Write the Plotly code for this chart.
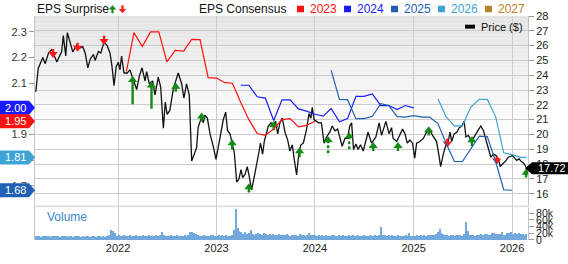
import pandas as pd
import plotly.graph_objects as go

# ---------------- data ----------------
price_dates = ["2021-03-02","2021-03-11","2021-03-28","2021-04-06","2021-04-18","2021-04-30","2021-05-19","2021-06-06","2021-06-12","2021-06-21","2021-06-27","2021-07-07","2021-07-17","2021-08-01","2021-08-11","2021-08-23","2021-09-01","2021-09-11","2021-09-20","2021-10-02","2021-10-08","2021-10-20","2021-10-29","2021-11-10","2021-11-22","2021-12-02","2021-12-09","2021-12-17","2021-12-25",
"2022-01-02","2022-01-08","2022-01-14","2022-01-23","2022-02-04","2022-02-14","2022-02-24","2022-03-11","2022-03-21","2022-03-31","2022-04-11","2022-04-17","2022-04-27","2022-05-09","2022-05-18","2022-05-30","2022-06-08","2022-06-18","2022-06-25","2022-07-02","2022-07-12","2022-07-25","2022-08-03","2022-08-12","2022-08-25","2022-09-02","2022-09-12","2022-09-22","2022-10-01","2022-10-09","2022-10-19","2022-10-25","2022-11-01","2022-11-07","2022-11-13","2022-11-19","2022-11-28","2022-12-08","2022-12-20","2022-12-30",
"2023-01-08","2023-01-18","2023-01-26","2023-02-04","2023-02-11","2023-02-20","2023-02-28","2023-03-08","2023-03-17","2023-03-25","2023-04-02","2023-04-08","2023-04-17","2023-04-25","2023-05-02","2023-05-11","2023-05-21","2023-05-30","2023-06-07","2023-06-13","2023-06-21","2023-06-27","2023-07-06","2023-07-12","2023-07-22","2023-07-30","2023-08-08","2023-08-16","2023-08-24","2023-09-02","2023-09-12","2023-09-22","2023-09-30","2023-10-09","2023-10-16","2023-10-25","2023-11-03","2023-11-10","2023-11-19","2023-11-25","2023-12-01","2023-12-10","2023-12-17","2023-12-22","2023-12-29",
"2024-01-07","2024-01-15","2024-01-25","2024-02-04","2024-02-13","2024-02-25","2024-03-05","2024-03-15","2024-03-25","2024-04-02","2024-04-11","2024-04-21","2024-05-01","2024-05-09","2024-05-16","2024-05-23","2024-06-01","2024-06-09","2024-06-18","2024-06-28","2024-07-08","2024-07-16","2024-07-29","2024-08-14","2024-08-26","2024-09-04","2024-09-20","2024-10-02","2024-10-11","2024-10-17","2024-10-30","2024-11-14","2024-11-21","2024-11-30","2024-12-08","2024-12-18","2024-12-28",
"2025-01-05","2025-01-12","2025-01-24","2025-02-06","2025-02-18","2025-02-28","2025-03-09","2025-03-17","2025-03-27","2025-04-05","2025-04-11","2025-04-21","2025-05-01","2025-05-09","2025-05-16","2025-05-22","2025-05-31","2025-06-10","2025-06-19","2025-06-28","2025-07-07","2025-07-14","2025-07-23","2025-08-01","2025-08-10","2025-08-20","2025-08-29","2025-09-07","2025-09-17","2025-09-27","2025-10-05","2025-10-14","2025-10-24","2025-11-03","2025-11-11","2025-11-18","2025-11-28","2025-12-06","2025-12-18",
"2026-01-03","2026-01-18","2026-01-27","2026-02-05","2026-02-14","2026-02-24"]
price_vals = [22.88,24.46,25.20,24.78,25.50,25.73,24.90,25.60,26.67,25.30,26.88,26.15,25.58,26.04,25.83,25.93,25.50,24.50,25.10,25.40,24.99,25.60,25.50,26.25,25.98,25.50,24.67,23.30,24.57,
24.88,24.36,25.30,24.15,24.15,24.36,23.83,23.03,23.94,24.50,23.62,24.25,23.41,23.62,22.67,23.87,23.20,20.42,22.19,21.35,21.62,23.09,23.62,24.15,23.41,22.46,23.41,22.67,18.21,18.57,19.09,20.46,20.88,21.20,20.78,21.30,21.10,20.04,19.20,18.32,
19.20,20.15,20.99,21.51,20.25,20.04,19.41,18.78,16.77,16.99,17.62,17.09,17.30,17.83,17.20,16.25,17.13,18.15,18.78,19.41,18.67,19.52,20.15,20.57,20.78,20.67,20.88,20.04,20.78,21.10,20.15,19.62,18.88,19.30,18.35,17.26,18.88,19.30,19.41,19.83,20.36,21.41,21.10,21.83,20.99,
20.88,20.78,20.78,19.41,19.83,20.15,20.57,20.25,20.36,19.83,19.20,19.73,19.73,20.57,20.78,18.99,19.36,18.99,19.30,18.88,19.52,20.15,19.41,19.83,20.78,19.94,20.88,20.04,20.46,19.73,19.52,20.04,20.36,20.04,19.41,19.62,19.41,
18.40,19.41,19.52,19.73,20.15,20.36,20.04,19.83,19.52,18.57,17.83,18.67,19.30,19.52,20.15,19.52,20.04,20.15,20.46,20.57,20.88,19.83,19.94,19.62,19.73,20.04,20.36,20.57,20.25,19.62,19.09,18.46,18.67,18.57,18.35,17.83,18.04,18.15,18.46,
18.57,18.25,18.35,18.15,18.04,17.72]

cons_2023_dates = pd.date_range("2022-02-01", periods=24, freq="MS")
cons_2023 = [2.146,2.297,2.243,2.300,2.300,2.183,2.228,2.225,2.271,2.270,2.122,2.120,2.102,2.100,2.025,1.958,1.904,1.897,1.922,1.958,1.962,1.930,1.936,1.952]
cons_2024_dates = pd.date_range("2023-04-01", periods=22, freq="MS")
cons_2024 = [2.092,2.092,2.047,2.042,1.955,2.035,2.035,2.000,1.991,1.979,1.972,2.002,1.950,1.962,2.049,2.049,2.058,2.013,2.013,1.997,2.013,2.004]
cons_2025_dates = pd.date_range("2024-03-01", periods=23, freq="MS")
cons_2025 = [2.151,2.037,2.036,1.962,1.962,1.971,2.020,2.013,1.970,1.968,1.974,1.968,1.968,1.943,1.867,1.795,1.795,1.843,1.894,1.892,1.795,1.685,1.683]
cons_2026_dates = ["2025-04-01","2025-05-01","2025-06-01","2025-07-01","2025-08-01","2025-09-01","2025-10-01","2025-11-01","2025-12-01","2026-01-01","2026-02-01","2026-02-24"]
cons_2026 = [2.039,1.970,1.934,1.934,2.007,2.037,2.037,1.970,1.829,1.822,1.811,1.811]
cons_years = ["2023", "2024", "2025", "2026", "2027"]

surp_dates = ["2021-05-05","2021-08-04","2021-11-10","2022-02-24","2022-05-05","2022-08-03","2022-11-07","2023-02-28","2023-05-01","2023-08-01","2023-11-05","2024-02-19","2024-05-07","2024-08-04","2024-11-04","2025-02-26","2025-05-06","2025-08-05","2025-11-05","2026-02-22"]
surp_dir = [-1,-1,-1,1,1,1,1,1,1,1,1,1,1,1,1,1,-1,1,-1,1]
surp_head = [25.44,25.86,26.31,23.67,23.31,23.22,21.22,19.41,16.44,20.64,18.87,19.60,19.88,19.22,19.22,20.29,19.38,19.60,18.24,17.42]
surp_tail = [25.77,26.19,26.67,22.04,21.73,22.88,20.88,18.99,16.08,20.29,18.46,18.57,18.88,18.88,18.88,19.93,19.72,19.20,18.52,17.09]
surp_dashed = [0,0,0,0,0,0,0,0,0,0,0,1,1,0,0,0,0,0,0,0]

vol_2021 = [11,10,12,9,11,10,12,11,9,10, 11,12,10,9,11,10,12,9,10,11, 9,12,10,11,9,10,8,11,10,9, 12,10,9,11,10,8,10,9,11,13, 29,25,20,12]
vol_2022 = [13,12,11,14,12,10,13,11,12,14, 11,12,10,13,12,11,14,12,10,11, 13,12,14,24,13,11,12,10,13,11, 12,14,11,12,10,13,12,14,22,24, 21,17,14,12,11,13,12,10,11,13, 14,12]
vol_2023 = [12,13,11,14,12,13,12,11,14,30, 91,34,27,22,18,24,16,20,29,18, 15,17,21,16,14,19,17,15,16,14, 18,15,13,16,14,15,13,17,14,12, 15,13,14,12,16,13,14,12,13,20, 14,13]
vol_2024 = [13,12,14,11,13,12,15,12,11,14, 13,12,11,13,12,14,12,11,13,12, 14,11,12,13,11,12,14,12,11,13, 12,11,13,12,14,38,15,13,12,14, 11,13,12,10,14,12,11,12,13,11, 20,12]
vol_2025 = [12,11,13,12,14,12,13,11,14,13, 15,14,16,22,32,21,16,13,15,12, 14,13,12,15,13,14,12,16,54,27, 14,15,13,12,14,15,16,14,17,18, 15,13,19,20,17,16,18,22,15,14, 21,19]
vol_2026 = [22,18,20,16,19,17,18,15,16]
vol_k = vol_2021 + vol_2022 + vol_2023 + vol_2024 + vol_2025 + vol_2026
vol_dates = pd.date_range("2021-03-01", periods=len(vol_k), freq="7D")

vol_ticks = [0, 20, 40, 60, 80]
vol_ticktext = ["0", "20k", "40k", "60k", "80k"]
eps_ticks = [1.7, 1.8, 1.9, 2.0, 2.1, 2.2, 2.3]
eps_ticktext = ["1.7", "", "1.9", "", "2.1", "2.2", "2.3"]   # 1.8 / 2.0 sit under the badges
last_price = price_vals[-1]
badge_vals = [cons_2024[-1], cons_2023[-1], cons_2026[-1], cons_2025[-1]]
badge_years = ["2024", "2023", "2026", "2025"]

# ---------------- styling ----------------
W, H = 568, 264
ML, MR, MT, MB = 35, 40, 14, 10
PW, PH = W - ML - MR, H - MT - MB
FONT = "Liberation Sans, Arial, sans-serif"
COL = {"2023": "#ff1111", "2024": "#1a1aff", "2025": "#2060b4", "2026": "#3fa3d6", "2027": "#b8822e"}
GREEN, RED = "#138a13", "#ff1a1a"
MAIN_BOTTOM, VOL_TOP = 0.154, 0.146


def px(x):
    return (x - ML) / PW


def py(y):
    return (H - MB - y) / PH


fig = go.Figure()

fig.add_trace(go.Bar(x=vol_dates, y=vol_k, xaxis="x", yaxis="y3", width=4 * 86400000,
                     marker=dict(color="#72a8db", line=dict(width=0)), hoverinfo="skip"))

for yr, dts, vals in [("2023", cons_2023_dates, cons_2023), ("2024", cons_2024_dates, cons_2024),
                      ("2025", cons_2025_dates, cons_2025), ("2026", cons_2026_dates, cons_2026)]:
    fig.add_trace(go.Scatter(x=dts, y=vals, mode="lines", yaxis="y2",
                             line=dict(color=COL[yr], width=1.2), hoverinfo="skip"))

fig.add_trace(go.Scatter(x=price_dates, y=price_vals, mode="lines", yaxis="y",
                         line=dict(color="#111111", width=1.3), hoverinfo="skip"))

# surprise arrows
for dashed in (0, 1):
    for sgn, col in ((1, GREEN), (-1, RED)):
        sx, sy = [], []
        for d, s, h, t, ds in zip(surp_dates, surp_dir, surp_head, surp_tail, surp_dashed):
            if s == sgn and ds == dashed:
                sx += [d, d, None]
                sy += [h, t, None]
        if sx:
            fig.add_trace(go.Scatter(x=sx, y=sy, mode="lines", yaxis="y",
                                     line=dict(color=col, width=2.4, dash="3px,2px" if dashed else "solid"),
                                     hoverinfo="skip"))
for sgn, col, sym in ((1, GREEN, "triangle-up"), (-1, RED, "triangle-down")):
    hx = [d for d, s in zip(surp_dates, surp_dir) if s == sgn]
    hy = [h for h, s in zip(surp_head, surp_dir) if s == sgn]
    fig.add_trace(go.Scatter(x=hx, y=hy, mode="markers", yaxis="y",
                             marker=dict(symbol=sym, size=8, color=col, line=dict(width=0)),
                             hoverinfo="skip"))

shapes = []
annotations = []

# background gradient for the price panel (bands, top grey fading to white)
g_top, g_bot, n_bands = 14, 142, 32
for i in range(n_bands):
    y0 = g_top + (g_bot - g_top) * i / n_bands
    y1 = g_top + (g_bot - g_top) * (i + 1) / n_bands
    c = int(round(0xE4 + (0xFF - 0xE4) * (i + 0.5) / n_bands))
    shapes.append(dict(type="rect", xref="paper", yref="paper", x0=0, x1=1, y0=py(y1), y1=py(y0),
                       fillcolor=f"rgb({c},{c},{c})", line=dict(width=0), layer="below"))

# separator band between panels
shapes.append(dict(type="rect", xref="paper", yref="paper", x0=0, x1=1, y0=VOL_TOP, y1=MAIN_BOTTOM,
                   fillcolor="#dedede", line=dict(width=0), layer="below"))

# header: EPS Surprise + arrows
annotations.append(dict(text="EPS Surprise", xref="paper", yref="paper", x=px(35), y=py(6.5),
                        xanchor="left", yanchor="middle", showarrow=False,
                        font=dict(family=FONT, size=12, color="#111")))


def up_arrow(cx, top):
    pts = [(cx, top), (cx + 3.8, top + 4.5), (cx + 1.1, top + 4.5), (cx + 1.1, top + 8.5),
           (cx - 1.1, top + 8.5), (cx - 1.1, top + 4.5), (cx - 3.8, top + 4.5)]
    return "M" + " L".join(f"{px(a):.5f},{py(b):.5f}" for a, b in pts) + " Z"


def down_arrow(cx, top):
    pts = [(cx - 1.1, top), (cx + 1.1, top), (cx + 1.1, top + 4), (cx + 3.8, top + 4),
           (cx, top + 8.5), (cx - 3.8, top + 4), (cx - 1.1, top + 4)]
    return "M" + " L".join(f"{px(a):.5f},{py(b):.5f}" for a, b in pts) + " Z"


shapes.append(dict(type="path", xref="paper", yref="paper", path=up_arrow(112.5, 2.5),
                   fillcolor=GREEN, line=dict(width=0), layer="above"))
shapes.append(dict(type="path", xref="paper", yref="paper", path=down_arrow(122.5, 2.5),
                   fillcolor=RED, line=dict(width=0), layer="above"))

annotations.append(dict(text="EPS Consensus", xref="paper", yref="paper", x=px(197), y=py(6.5),
                        xanchor="left", yanchor="middle", showarrow=False,
                        font=dict(family=FONT, size=12, color="#111")))
for i, yr in enumerate(cons_years):
    sx = 297 + 47 * i
    shapes.append(dict(type="rect", xref="paper", yref="paper", x0=px(sx), x1=px(sx + 7),
                       y0=py(10), y1=py(3), fillcolor=COL[yr], line=dict(width=0), layer="above"))
    annotations.append(dict(text=yr, xref="paper", yref="paper", x=px(sx + 11), y=py(6.5),
                            xanchor="left", yanchor="middle", showarrow=False,
                            font=dict(family=FONT, size=12, color=COL[yr])))

# Price legend
shapes.append(dict(type="rect", xref="paper", yref="paper", x0=px(465), x1=px(475), y0=py(27.5), y1=py(23.3),
                   fillcolor="#000", line=dict(width=0), layer="above"))
annotations.append(dict(text="Price ($)", xref="paper", yref="paper", x=px(479), y=py(25.5),
                        xanchor="left", yanchor="middle", showarrow=False,
                        font=dict(family=FONT, size=11, color="#111")))

# Volume label
annotations.append(dict(text="Volume", xref="paper", yref="paper", x=px(45), y=py(229),
                        xanchor="left", yanchor="middle", showarrow=False,
                        font=dict(family=FONT, size=12, color="#3a87c8")))

# left consensus badges
for v, yr in zip(badge_vals, badge_years):
    shapes.append(dict(type="path", xref="paper", yref="y2", xsizemode="pixel", ysizemode="pixel",
                       xanchor=0, yanchor=v, path="M-36,-7 L-6,-7 L0,0 L-6,7 L-36,7 Z",
                       fillcolor=COL[yr], line=dict(width=0), layer="above"))
    annotations.append(dict(text=f"{v:.2f}", xref="paper", yref="y2", x=px(15), y=v,
                            xanchor="center", yanchor="middle", showarrow=False,
                            font=dict(family=FONT, size=11, color="#fff")))

# right price badge
shapes.append(dict(type="path", xref="paper", yref="y", xsizemode="pixel", ysizemode="pixel",
                   xanchor=1, yanchor=last_price, path="M-3,0 L4,6 L41,6 L41,-6 L4,-6 Z",
                   fillcolor="#000", line=dict(width=0), layer="above"))
annotations.append(dict(text=f"{last_price:.2f}", xref="paper", yref="y", x=1, y=last_price,
                        xanchor="left", yanchor="middle", xshift=8, showarrow=False,
                        font=dict(family=FONT, size=11, color="#fff")))

axis_font = dict(family=FONT, size=11, color="#222")
fig.update_layout(
    width=W, height=H, margin=dict(l=ML, r=MR, t=MT, b=MB),
    paper_bgcolor="#ffffff", plot_bgcolor="rgba(0,0,0,0)", showlegend=False,
    bargap=0,
    xaxis=dict(domain=[0, 1], anchor="y3", type="date", range=["2021-02-27", "2026-03-01"],
               tick0="2022-01-01", dtick="M12", tickformat="%Y", ticks="", showgrid=True,
               gridcolor="#cccccc", gridwidth=1, zeroline=False, showline=False,
               tickfont=axis_font, ticklabelstandoff=0),
    yaxis=dict(domain=[MAIN_BOTTOM, 1], anchor="x", side="right", range=[15.2, 28], tick0=0, dtick=1,
               showgrid=True, gridcolor="#cccccc", gridwidth=1, zeroline=False,
               ticks="outside", ticklen=5, tickcolor="#999", showline=True, linecolor="#c4c4c4",
               mirror=True, tickfont=axis_font),
    yaxis2=dict(overlaying="y", side="left", range=[1.6236, 2.3618], tickvals=eps_ticks,
                ticktext=eps_ticktext, showgrid=False, zeroline=False, ticks="outside", ticklen=5,
                tickcolor="#999", showline=False, tickfont=dict(family=FONT, size=11, color="#333")),
    yaxis3=dict(domain=[0, VOL_TOP], anchor="x", side="right", range=[0, 98], tickvals=vol_ticks,
                ticktext=vol_ticktext, showgrid=False, zeroline=False, ticks="outside", ticklen=5,
                tickcolor="#999", showline=True, linecolor="#c4c4c4", mirror=True,
                tickfont=dict(family=FONT, size=10.5, color="#222")),
    shapes=shapes, annotations=annotations,
)

fig.write_html("out.html")
